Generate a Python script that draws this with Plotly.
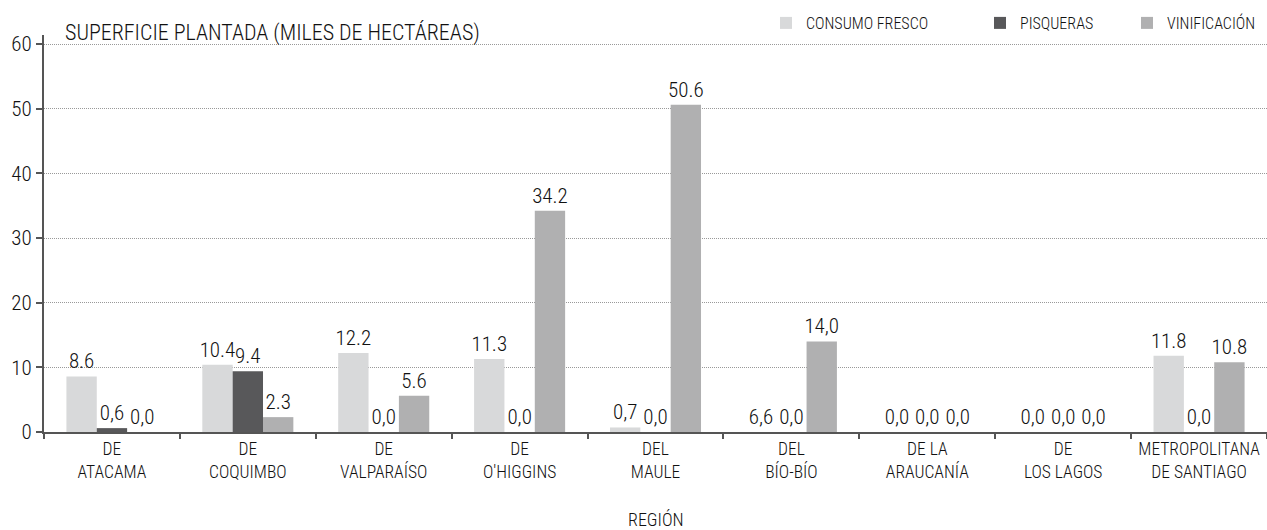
import plotly.graph_objects as go

regions = ["DE<br>ATACAMA", "DE<br>COQUIMBO", "DE<br>VALPARAÍSO", "DE<br>O'HIGGINS", "DEL<br>MAULE",
           "DEL<br>BÍO-BÍO", "DE LA<br>ARAUCANÍA", "DE<br>LOS LAGOS", "METROPOLITANA<br>DE SANTIAGO"]

consumo_fresco = [8.6, 10.4, 12.2, 11.3, 0.7, 0.0, 0.0, 0.0, 11.8]
pisqueras = [0.6, 9.4, 0.0, 0.0, 0.0, 0.0, 0.0, 0.0, 0.0]
vinificacion = [0.0, 2.3, 5.6, 34.2, 50.6, 14.0, 0.0, 0.0, 10.8]

consumo_labels = ["8.6", "10.4", "12.2", "11.3", "0,7", "6,6", "0,0", "0,0", "11.8"]
pisqueras_labels = ["0,6", "9.4", "0,0", "0,0", "0,0", "0,0", "0,0", "0,0", "0,0"]
vinificacion_labels = ["0,0", "2.3", "5.6", "34.2", "50.6", "14,0", "0,0", "0,0", "10.8"]

y_ticks = [0, 10, 20, 30, 40, 50, 60]

FONT = "Roboto Condensed, Liberation Sans Narrow, sans-serif"
TXT = "#111111"
WT = 300

# plot area in pixels
L, R, T, B = 44, 0, 35, 98
W, H = 1267, 530
PW, PH = W - L - R, H - T - B

def px_x(x):
    return (x - L) / PW

def px_y(y):
    return (H - B - y) / PH

series = [
    ("CONSUMO FRESCO", consumo_fresco, consumo_labels, "#d8d9da", "legend", 766),
    ("PISQUERAS", pisqueras, pisqueras_labels, "#58585a", "legend2", 980),
    ("VINIFICACIÓN", vinificacion, vinificacion_labels, "#b0b0b1", "legend3", 1127),
]

fig = go.Figure()
legends = {}
for name, vals, labels, color, leg, lx in series:
    fig.add_trace(go.Bar(
        name=name, x=regions, y=vals, text=labels,
        marker=dict(color=color, line=dict(width=0)),
        textposition="outside", constraintext="none", cliponaxis=False,
        textfont=dict(family=FONT, size=21, color=TXT, weight=WT),
        hoverinfo="skip", legend=leg,
    ))
    legends[leg] = dict(orientation="h", x=px_x(lx), xanchor="left", y=px_y(23), yanchor="middle",
                        font=dict(family=FONT, size=16, color=TXT, weight=WT),
                        bgcolor="rgba(0,0,0,0)", itemwidth=30)

fig.update_layout(
    width=W, height=H,
    margin=dict(l=L, r=R, t=T, b=B),
    plot_bgcolor="white", paper_bgcolor="white",
    barmode="group", bargap=0.33, bargroupgap=0,
    font=dict(family=FONT, color=TXT, weight=WT),
    showlegend=True,
    **legends,
    xaxis=dict(showline=True, linecolor="#555", linewidth=2, ticks="outside",
               tickson="boundaries", ticklen=5, tickcolor="#555", tickwidth=1.5,
               tickfont=dict(family=FONT, size=17.5, color=TXT, weight=WT), showgrid=False),
    yaxis=dict(range=[0, 61.4], tickvals=y_ticks, showline=True, linecolor="#555", linewidth=2,
               ticks="outside", ticklen=6, tickcolor="#555", tickwidth=1.5,
               tickfont=dict(family=FONT, size=21, color=TXT, weight=WT),
               showgrid=True, gridcolor="#999", griddash="1px,1px", gridwidth=1, zeroline=False),
    annotations=[
        dict(text="SUPERFICIE PLANTADA (MILES DE HECTÁREAS)", xref="paper", yref="paper",
             x=px_x(63), y=px_y(33), xanchor="left", yanchor="middle",
             showarrow=False, font=dict(family=FONT, size=22, color=TXT, weight=WT)),
        dict(text="REGIÓN", xref="paper", yref="paper", x=0.5, y=px_y(519),
             xanchor="center", yanchor="middle", showarrow=False,
             font=dict(family=FONT, size=18, color=TXT, weight=WT)),
    ],
)

fig.write_html("out.html", config={"displayModeBar": False},
               post_script="document.body.style.margin='0';")
